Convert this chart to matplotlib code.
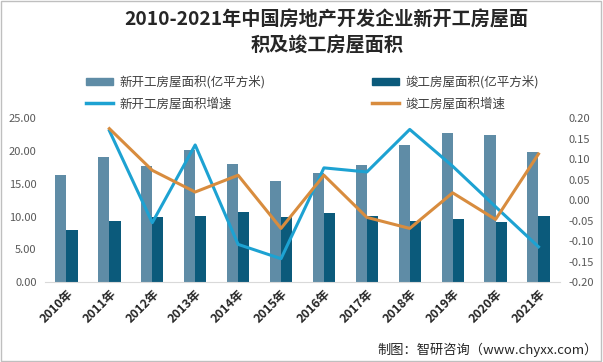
import numpy as np
import matplotlib.pyplot as plt
from matplotlib.lines import Line2D
from matplotlib.patches import Patch

plt.rcParams['font.family'] = ['Noto Sans CJK SC', 'DejaVu Sans']

years = ['2010年', '2011年', '2012年', '2013年', '2014年', '2015年',
         '2016年', '2017年', '2018年', '2019年', '2020年', '2021年']
new_area = [16.38, 19.10, 17.73, 20.12, 17.96, 15.45,
            16.69, 17.87, 20.93, 22.72, 22.44, 19.89]
done_area = [7.87, 9.26, 9.94, 10.14, 10.75, 10.00,
             10.61, 10.15, 9.36, 9.59, 9.12, 10.14]
new_growth = [None, 0.170, -0.055, 0.135, -0.108, -0.143,
              0.079, 0.069, 0.173, 0.083, -0.016, -0.114]
done_growth = [None, 0.175, 0.073, 0.020, 0.061, -0.069,
               0.061, -0.042, -0.069, 0.018, -0.047, 0.113]

c_new = '#5f8ca6'
c_done = '#0b5a7b'
c_lnew = '#1da2d2'
c_ldone = '#d88c3e'
gray = '#595959'

fig = plt.figure(figsize=(6.03, 3.62), dpi=100)
ax = fig.add_axes([0.0746, 0.221, 0.854, 0.452])
x = np.arange(len(years))
w = 0.26
ax.bar(x - w / 2, new_area, w, color=c_new)
ax.bar(x + w / 2, done_area, w, color=c_done)
ax.set_xlim(-0.5, len(years) - 0.5)
ax.set_ylim(0, 25)
ax.set_yticks(np.arange(0, 25.1, 5))
ax.set_yticklabels(['%.2f' % v for v in np.arange(0, 25.1, 5)], color=gray, fontsize=8)
ax.set_xticks(x)
ax.set_xticklabels(years, rotation=45, ha='right', rotation_mode='anchor',
                   fontsize=8.8, fontweight='bold', color='#262626')
ax.tick_params(length=0, pad=6)
ax.tick_params(axis='x', pad=4)
for s in ['top', 'left', 'right']:
    ax.spines[s].set_visible(False)
ax.spines['bottom'].set_color('#d9d9d9')

ax2 = ax.twinx()
xs = x[1:]
ax2.plot(xs, new_growth[1:], color=c_lnew, lw=2.2)
ax2.plot(xs, done_growth[1:], color=c_ldone, lw=2.2)
ax2.set_ylim(-0.2, 0.2)
ticks = np.arange(-0.2, 0.201, 0.05)
ax2.set_yticks(ticks)
ax2.set_yticklabels(['%.2f' % v if abs(v) > 1e-9 else '0.00' for v in ticks],
                    color=gray, fontsize=8)
ax2.tick_params(length=0, pad=6)
for s in ['top', 'left', 'right', 'bottom']:
    ax2.spines[s].set_visible(False)

fig.text(0.542, 0.972, '2010-2021年中国房地产开发企业新开工房屋面\n积及竣工房屋面积',
         ha='center', va='top', fontsize=13.8, fontweight='bold', color='#262626',
         linespacing=1.45)

# matplotlib fills legend columns first, so order handles column-wise
handles = [Patch(color=c_new), Line2D([], [], color=c_lnew, lw=2.5),
           Patch(color=c_done), Line2D([], [], color=c_ldone, lw=2.5)]
labels = ['新开工房屋面积(亿平方米)', '新开工房屋面积增速', '竣工房屋面积(亿平方米)', '竣工房屋面积增速']
fig.legend(handles, labels, ncol=2, loc='center', bbox_to_anchor=(0.518, 0.743),
           frameon=False, fontsize=9, columnspacing=8.5, handlelength=2.2,
           handleheight=0.6, handletextpad=0.5, labelspacing=0.7, labelcolor='#404040')

fig.text(0.992, 0.035, '制图：智研咨询（www.chyxx.com）', ha='right', va='center',
         fontsize=9.5, color='#262626')

fig.patches.append(plt.Rectangle((0.002, 0.003), 0.995, 0.994, transform=fig.transFigure,
                                 fill=False, edgecolor='#bfbfbf', lw=1))

fig.savefig('out.png', dpi=100)
